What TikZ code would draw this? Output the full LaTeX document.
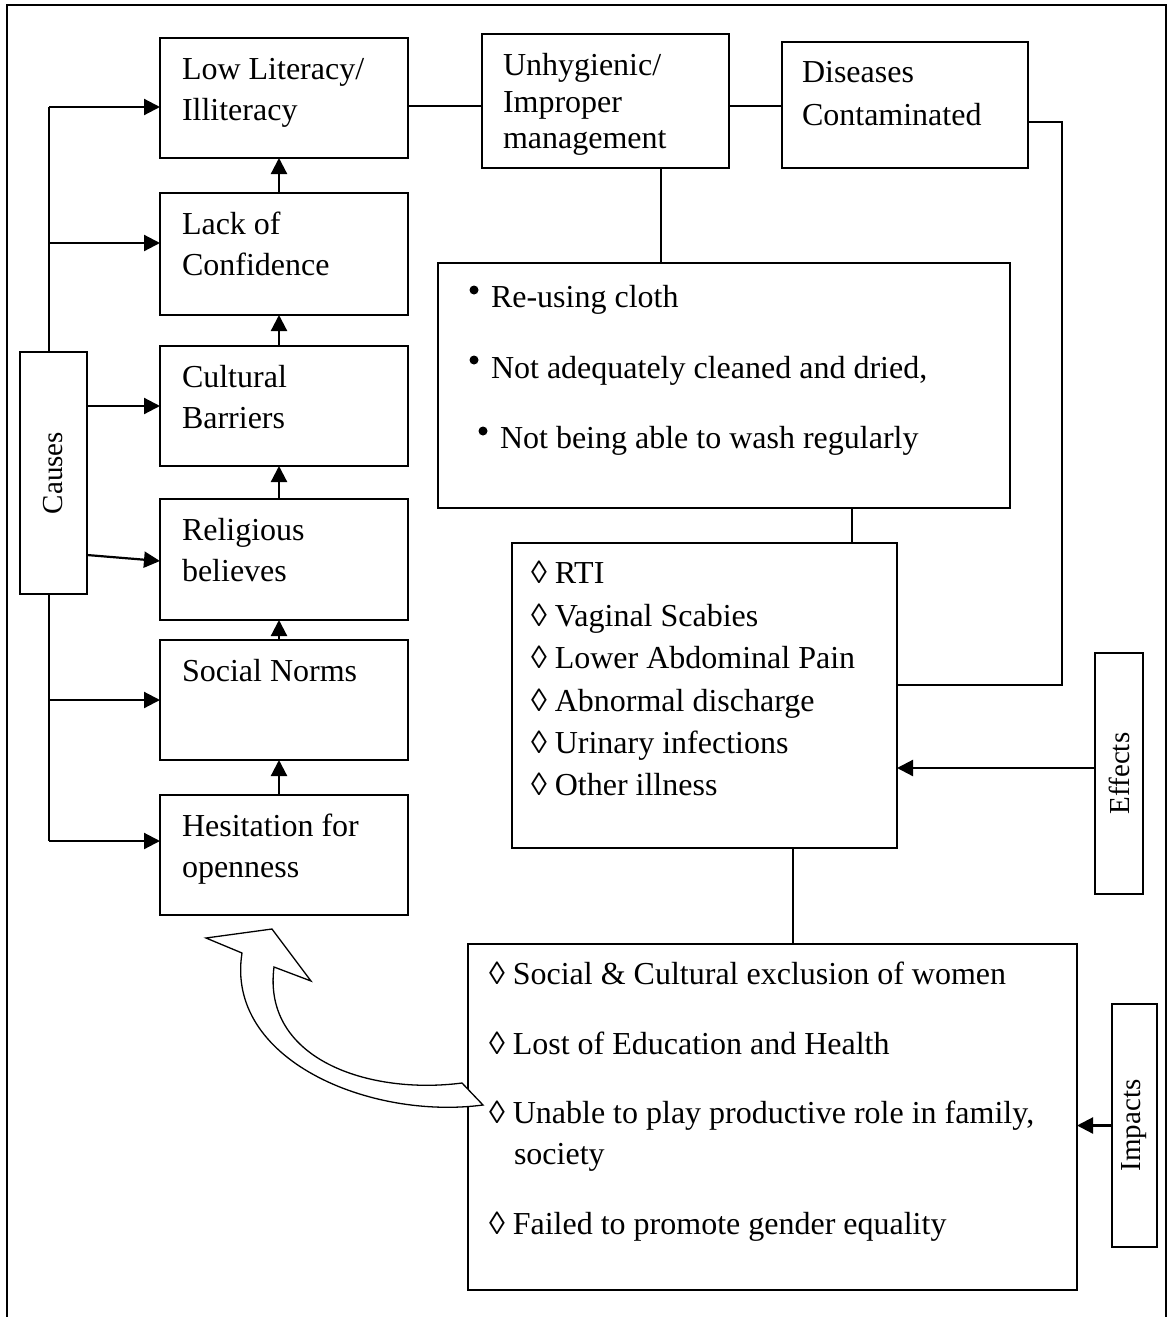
\documentclass[tikz,border=0pt]{standalone}
\usepackage{fontspec}
\setmainfont{Liberation Serif}
\usetikzlibrary{arrows.meta}
\begin{document}
\begin{tikzpicture}[x=1pt,y=-1pt,
  box/.style={draw, line width=1.8pt, anchor=north west, inner sep=0pt, outer sep=0pt},
  txt/.style={anchor=base west, inner sep=0pt, outer sep=0pt, font=\fontsize{32}{42}\selectfont},
  vlab/.style={rotate=90, inner sep=0pt, font=\fontsize{29}{36}\selectfont},
  ln/.style={line width=1.6pt},
  arr/.style={line width=2.2pt, -{Triangle[length=16pt,width=16pt]}},
  bigarrow/.style={draw, line width=1.3pt, fill=white, line join=miter}]
\useasboundingbox (0,0) rectangle (1170,1317);
% outer frame (open at bottom)
\draw[line width=1.8pt] (7,1317) -- (7,5) -- (1166,5) -- (1166,1317);

% left column boxes
\node[box, minimum width=248pt, minimum height=120pt] (lit)  at (160,38)  {};
\node[box, minimum width=248pt, minimum height=122pt] (conf) at (160,193) {};
\node[box, minimum width=248pt, minimum height=120pt] (cult) at (160,346) {};
\node[box, minimum width=248pt, minimum height=121pt] (rel)  at (160,499) {};
\node[box, minimum width=248pt, minimum height=120pt] (soc)  at (160,640) {};
\node[box, minimum width=248pt, minimum height=120pt] (hes)  at (160,795) {};
\node[box, minimum width=67pt,  minimum height=242pt] (causes) at (20,352) {};

\node[txt] (t1a) at (182,79)  {Low Literacy/};
\node[txt] (t1b) at (182,120) {Illiteracy};
\node[txt] (t2a) at (182,234) {Lack of};
\node[txt] (t2b) at (182,275) {Confidence};
\node[txt] (t3a) at (182,387) {Cultural};
\node[txt] (t3b) at (182,428) {Barriers};
\node[txt] (t4a) at (182,540) {Religious};
\node[txt] (t4b) at (182,581) {believes};
\node[txt] (t5a) at (182,681) {Social Norms};
\node[txt] (t6a) at (182,836) {Hesitation for};
\node[txt] (t6b) at (182,877) {openness};
\node[vlab] (tcauses) at (causes.center) {Causes};

% upward arrows between left boxes
\draw[arr] ([xshift=-5pt]conf.north) -- ([xshift=-5pt]lit.south);
\draw[arr] ([xshift=-5pt]cult.north) -- ([xshift=-5pt]conf.south);
\draw[arr] ([xshift=-5pt]rel.north)  -- ([xshift=-5pt]cult.south);
\draw[arr] ([xshift=-5pt]soc.north)  -- ([xshift=-5pt]rel.south);
\draw[arr] ([xshift=-5pt]hes.north)  -- ([xshift=-5pt]soc.south);

% left spine
\coordinate (s1) at (49,107);
\coordinate (s2) at (49,243);
\coordinate (s5) at (49,700);
\coordinate (s6) at (49,841);
\draw[line width=2pt] (s1) -- (causes.north -| s1);
\draw[line width=2pt] (causes.south -| s1) -- (s6);
\draw[arr] (s1) -- (s1 -| lit.west);
\draw[arr] (s2) -- (s2 -| conf.west);
\draw[arr] (s5) -- (s5 -| soc.west);
\draw[arr] (s6) -- (s6 -| hes.west);
\coordinate (c1) at (87,406);
\coordinate (c2) at (87,555);
\draw[arr] (c1) -- (c1 -| cult.west);
\draw[arr] (c2) -- ([yshift=-1.5pt]rel.west);

% top row
\node[box, minimum width=247pt, minimum height=134pt] (unh) at (482,34) {};
\node[box, minimum width=246pt, minimum height=126pt] (dis) at (782,42) {};
\node[txt] (u1) at (503,75)  {Unhygienic/};
\node[txt] (u2) at (503,112) {Improper};
\node[txt] (u3) at (503,148) {management};
\node[txt] (d1) at (802,82)  {Diseases};
\node[txt] (d2) at (802,125) {Contaminated};
\coordinate (r1) at (0,106);
\draw[ln] (lit.east |- r1) -- (unh.west |- r1);
\draw[ln] (unh.east |- r1) -- (dis.west |- r1);

% bullet box
\node[box, minimum width=572pt, minimum height=245pt] (bul) at (438,263) {};
\coordinate (vx1) at (661,0);
\draw[ln] (unh.south -| vx1) -- (bul.north -| vx1);
\fill (474,290) circle (4.5pt);
\fill (474,360) circle (4.5pt);
\fill (483,431) circle (4.5pt);
\node[txt] (b1) at (491,307) {Re-using cloth};
\node[txt] (b2) at (491,378) {Not adequately cleaned and dried,};
\node[txt] (b3) at (500,448) {Not being able to wash regularly};

% RTI box
\node[box, minimum width=385pt, minimum height=305pt] (rti) at (512,543) {};
\coordinate (vx2) at (852,0);
\draw[ln] (bul.south -| vx2) -- (rti.north -| vx2);
\node[txt] (e1) at (531,583) {◊ RTI};
\node[txt] (e2) at (531,626) {◊ Vaginal Scabies};
\node[txt] (e3) at (531,668) {◊ Lower Abdominal Pain};
\node[txt] (e4) at (531,711) {◊ Abnormal discharge};
\node[txt] (e5) at (531,753) {◊ Urinary infections};
\node[txt] (e6) at (531,795) {◊ Other illness};

% connector Diseases -> RTI
\coordinate (k1) at (1062,122);
\coordinate (k2) at (1062,685);
\draw[ln] (dis.east |- k1) -- (k1) -- (k2) -- (k2 -| rti.east);

% Effects
\node[box, minimum width=48pt, minimum height=241pt] (eff) at (1095,653) {};
\node[vlab] (teff) at (eff.center) {Effects};
\coordinate (k3) at (0,768);
\draw[arr] (eff.west |- k3) -- (rti.east |- k3);

% Impacts box
\node[box, minimum width=609pt, minimum height=346pt] (imp) at (468,944) {};
\coordinate (vx3) at (793,0);
\draw[ln] (rti.south -| vx3) -- (imp.north -| vx3);
\node[txt] (i1) at (489,984)  {◊ Social \& Cultural exclusion of women};
\node[txt] (i2) at (489,1054) {◊ Lost of Education and Health};
\node[txt] (i3) at (489,1123) {◊ Unable to play productive role in family,};
\node[txt] (i3b) at (514,1164) {society};
\node[txt] (i4) at (489,1234) {◊ Failed to promote gender equality};

\node[box, minimum width=45pt, minimum height=243pt] (impl) at (1112,1004) {};
\node[vlab] (timp) at (impl.center) {Impacts};
\draw[arr] (impl.west) -- (impl.west -| imp.east);

% curved block arrow back to the causes
\path[bigarrow] (462,1083) -- (483,1105)
  .. controls (370,1120) and (225,1060) .. (242,953)
  -- (206,938) -- (272,929) -- (311,981) -- (274,967)
  .. controls (262,1060) and (370,1095) .. (462,1083) -- cycle;
\end{tikzpicture}
\end{document}
